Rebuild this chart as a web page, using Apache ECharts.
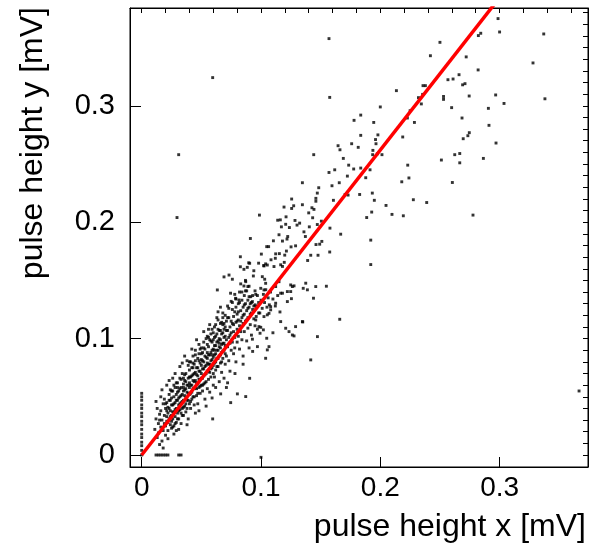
<!DOCTYPE html>
<html>
<head>
<meta charset="utf-8">
<script src="https://cdn.jsdelivr.net/npm/echarts@6/dist/echarts.min.js"></script>
<style>
  html, body { margin: 0; padding: 0; background: #fff; }
  #chart { width: 592px; height: 553px; }
</style>
</head>
<body>
<div id="chart"></div>
<script>
// axis ranges and ticks (mV)
const xRange = [-0.0098, 0.3741]
const yRange = [-0.0103, 0.3840]
const xMajorTicks = [0, 0.1, 0.2, 0.3]
const yMajorTicks = [0, 0.1, 0.2, 0.3]
const xMinorTicks = [0, 0.02, 0.04, 0.06, 0.08, 0.1, 0.12, 0.14, 0.16, 0.18, 0.2, 0.22, 0.24, 0.26, 0.28, 0.3, 0.32, 0.34, 0.36]
const yMinorTicks = [0, 0.01, 0.02, 0.03, 0.04, 0.05, 0.06, 0.07, 0.08, 0.09, 0.1, 0.11, 0.12, 0.13, 0.14, 0.15, 0.16, 0.17, 0.18, 0.19, 0.2, 0.21, 0.22, 0.23, 0.24, 0.25, 0.26, 0.27, 0.28, 0.29, 0.3, 0.31, 0.32, 0.33, 0.34, 0.35, 0.36, 0.37, 0.38]

// events with x = 0 (y channel only)
const zeroXEvents = [[0,0],[0,0.004],[0,0.008],[0,0.011],[0,0.015],[0,0.018],[0,0.022],[0,0.026],[0,0.029],[0,0.033],[0,0.036],[0,0.040],[0,0.043],[0,0.047],[0,0.050],[0,0.053]]
// events with y = 0 (x channel only)
const zeroYEvents = [[0.012,0],[0.014,0],[0.016,0],[0.018,0],[0.020,0],[0.022,0],[0.031,0],[0.033,0],[0.100,-0.002]]

// dense core of the correlation
const coreEvents = [
  [0.011,0.022],[0.012,0.031],[0.013,0.015],[0.013,0.040],[0.014,0.027],[0.015,0.009],[0.015,0.035],[0.012,0.046],[0.014,0.019],
  [0.016,0.024],[0.016,0.038],[0.017,0.030],[0.017,0.012],[0.018,0.044],[0.018,0.021],[0.019,0.034],[0.019,0.027],[0.016,0.050],[0.020,0.017],[0.018,0.006],[0.020,0.040],[0.017,0.056],
  [0.021,0.029],[0.021,0.045],[0.022,0.036],[0.022,0.021],[0.023,0.052],[0.023,0.031],[0.023,0.040],[0.024,0.026],[0.024,0.047],[0.025,0.034],[0.021,0.060],[0.022,0.014],[0.025,0.055],[0.024,0.038],[0.025,0.023],[0.023,0.064],[0.021,0.038],
  [0.026,0.043],[0.026,0.031],[0.027,0.050],[0.027,0.037],[0.027,0.025],[0.028,0.058],[0.028,0.045],[0.028,0.033],[0.029,0.040],[0.029,0.052],[0.029,0.028],[0.030,0.047],[0.026,0.066],[0.030,0.036],[0.027,0.018],[0.030,0.062],[0.028,0.070],[0.026,0.055],[0.029,0.021],
  [0.031,0.043],[0.031,0.055],[0.031,0.031],[0.032,0.050],[0.032,0.039],[0.032,0.066],[0.033,0.045],[0.033,0.058],[0.033,0.027],[0.034,0.052],[0.034,0.040],[0.034,0.070],[0.035,0.047],[0.035,0.061],[0.035,0.034],[0.032,0.076],[0.031,0.022],[0.034,0.079],[0.033,0.036],[0.035,0.055],
  [0.036,0.051],[0.036,0.064],[0.036,0.042],[0.037,0.057],[0.037,0.070],[0.037,0.037],[0.038,0.047],[0.038,0.060],[0.038,0.081],[0.039,0.053],[0.039,0.066],[0.039,0.031],[0.040,0.058],[0.040,0.044],[0.040,0.073],[0.036,0.085],[0.038,0.026],[0.037,0.049],[0.039,0.077],[0.040,0.062],
  [0.041,0.053],[0.041,0.067],[0.041,0.040],[0.042,0.060],[0.042,0.075],[0.042,0.048],[0.043,0.057],[0.043,0.069],[0.043,0.085],[0.044,0.063],[0.044,0.050],[0.044,0.078],[0.045,0.058],[0.045,0.071],[0.045,0.036],[0.042,0.091],[0.044,0.043],[0.041,0.080],[0.043,0.064],[0.045,0.090],
  [0.046,0.062],[0.046,0.075],[0.046,0.051],[0.047,0.068],[0.047,0.083],[0.047,0.044],[0.048,0.058],[0.048,0.072],[0.048,0.095],[0.049,0.065],[0.049,0.079],[0.049,0.053],[0.050,0.070],[0.050,0.087],[0.050,0.060],[0.046,0.099],[0.048,0.038],[0.049,0.091],[0.047,0.061],[0.050,0.077],
  [0.051,0.066],[0.051,0.081],[0.051,0.055],[0.052,0.074],[0.052,0.092],[0.052,0.061],[0.053,0.069],[0.053,0.085],[0.053,0.048],[0.054,0.077],[0.054,0.063],[0.054,0.100],[0.055,0.072],[0.055,0.088],[0.055,0.057],[0.052,0.106],[0.054,0.042],[0.051,0.074],
  [0.056,0.078],[0.056,0.065],[0.056,0.093],[0.057,0.071],[0.057,0.086],[0.057,0.054],[0.058,0.081],[0.058,0.098],[0.058,0.067],[0.059,0.075],[0.059,0.090],[0.059,0.108],[0.060,0.084],[0.060,0.070],[0.060,0.060],[0.057,0.112],[0.059,0.049],[0.056,0.101],
  [0.061,0.079],[0.061,0.094],[0.061,0.067],[0.062,0.087],[0.062,0.102],[0.062,0.073],[0.063,0.083],[0.063,0.097],[0.063,0.118],[0.064,0.090],[0.064,0.076],[0.064,0.108],[0.065,0.085],[0.065,0.100],[0.065,0.063],[0.062,0.058],[0.064,0.123],[0.061,0.110],
  [0.066,0.092],[0.066,0.079],[0.066,0.107],[0.067,0.088],[0.067,0.114],[0.067,0.071],[0.068,0.096],[0.068,0.083],[0.068,0.122],[0.069,0.101],[0.069,0.090],[0.069,0.066],[0.070,0.094],[0.070,0.110],[0.070,0.078],[0.066,0.127],[0.068,0.105],
  [0.071,0.099],[0.071,0.085],[0.071,0.115],[0.072,0.093],[0.072,0.107],[0.072,0.128],[0.073,0.101],[0.073,0.081],[0.073,0.118],[0.074,0.096],[0.074,0.110],[0.074,0.072],[0.075,0.105],[0.075,0.090],[0.075,0.132],[0.072,0.062],
  [0.076,0.113],[0.076,0.097],[0.076,0.125],[0.077,0.106],[0.077,0.087],[0.077,0.119],[0.078,0.101],[0.078,0.138],[0.078,0.092],[0.079,0.114],[0.079,0.127],[0.079,0.080],[0.080,0.108],[0.080,0.121],[0.080,0.097],
  [0.081,0.116],[0.081,0.130],[0.081,0.102],[0.082,0.111],[0.082,0.140],[0.082,0.091],[0.083,0.124],[0.083,0.106],[0.083,0.147],[0.084,0.118],[0.084,0.133],[0.084,0.099],[0.085,0.113],[0.085,0.127],[0.085,0.085],
  [0.086,0.121],[0.086,0.137],[0.086,0.106],[0.087,0.130],[0.087,0.115],[0.087,0.150],[0.088,0.124],[0.088,0.098],[0.088,0.141],[0.089,0.118],[0.089,0.133],[0.089,0.109],[0.090,0.127],[0.090,0.145],[0.090,0.092],
  [0.091,0.121],[0.091,0.112],[0.092,0.131],[0.092,0.103],[0.093,0.125],[0.094,0.117],[0.095,0.129],[0.095,0.111],[0.096,0.119],[0.097,0.128],[0.098,0.122],[0.097,0.108],
  [0.019,0.048],[0.020,0.025],[0.021,0.033],[0.022,0.041],[0.022,0.028],[0.023,0.047],[0.024,0.033],[0.024,0.056],[0.025,0.029],[0.025,0.043],[0.026,0.037],[0.026,0.024],[0.027,0.060],[0.027,0.044],[0.028,0.039],[0.028,0.027],[0.029,0.047],[0.029,0.062],[0.030,0.031],[0.030,0.054],
  [0.031,0.038],[0.031,0.049],[0.032,0.044],[0.032,0.057],[0.033,0.051],[0.033,0.065],[0.034,0.046],[0.034,0.034],[0.035,0.058],[0.035,0.041],[0.036,0.069],[0.036,0.056],[0.037,0.044],[0.037,0.063],[0.038,0.054],[0.038,0.040],[0.039,0.060],[0.039,0.047],[0.040,0.067],[0.040,0.052],
  [0.041,0.060],[0.041,0.046],[0.042,0.068],[0.042,0.054],[0.043,0.075],[0.043,0.050],[0.044,0.070],[0.044,0.057],[0.045,0.064],[0.045,0.081],[0.046,0.057],[0.046,0.069],[0.047,0.075],[0.047,0.053],[0.048,0.065],[0.048,0.081],[0.049,0.059],[0.049,0.072],[0.050,0.066],[0.050,0.082],
  [0.051,0.060],[0.051,0.088],[0.052,0.068],[0.052,0.080],[0.053,0.076],[0.053,0.062],[0.054,0.070],[0.054,0.084],[0.055,0.079],[0.055,0.095],[0.056,0.072],[0.056,0.086],[0.057,0.078],[0.057,0.099],[0.058,0.074],[0.058,0.088],[0.059,0.082],[0.059,0.097],[0.060,0.077],[0.060,0.091],
  [0.061,0.086],[0.061,0.101],[0.062,0.080],[0.062,0.094],[0.063,0.090],[0.063,0.076],[0.064,0.098],[0.064,0.083],[0.065,0.093],[0.065,0.107],[0.066,0.086],[0.066,0.099],[0.067,0.095],[0.067,0.080],[0.068,0.089],[0.068,0.112],[0.069,0.096],[0.069,0.108],[0.070,0.087],[0.070,0.102],
  [0.052,0.097],[0.053,0.091],[0.055,0.083],[0.056,0.108],[0.058,0.104],[0.059,0.086],[0.060,0.099],[0.061,0.090],[0.062,0.112],[0.063,0.104],[0.064,0.116],[0.065,0.096],[0.066,0.113],[0.067,0.104],[0.068,0.118],[0.069,0.113],[0.070,0.120],[0.071,0.107],[0.072,0.118],[0.073,0.126],
  [0.074,0.103],[0.075,0.115],[0.076,0.131],[0.077,0.112],[0.078,0.123],[0.079,0.134],[0.080,0.115],[0.081,0.123],[0.082,0.131],[0.083,0.115],[0.084,0.140],[0.085,0.120],[0.086,0.129],[0.087,0.141],[0.088,0.116],[0.089,0.126],[0.090,0.136],[0.091,0.130],[0.092,0.122],[0.093,0.137],
  [0.094,0.128],[0.095,0.141],[0.096,0.127],[0.097,0.137],[0.098,0.131],[0.099,0.122],[0.100,0.133],[0.101,0.126],[0.102,0.138],[0.103,0.131],[0.104,0.142],[0.105,0.127],[0.106,0.135],[0.107,0.129],[0.108,0.140],[0.110,0.134],[0.112,0.128],[0.114,0.137],
  [0.035,0.066],[0.040,0.080],[0.030,0.058],[0.025,0.049],[0.020,0.044],[0.015,0.030],[0.045,0.086],[0.050,0.092],[0.055,0.102],[0.060,0.105],[0.048,0.087],[0.043,0.079]
]

// sparser events on the rising part of the band
const bandEvents = [
  [0.069,0.153],[0.0732,0.1546],[0.076,0.151],[0.0857,0.1595],[0.0885,0.1612],[0.0905,0.1647],[0.094,0.1583],[0.0936,0.1538],
  [0.1025,0.1624],[0.1053,0.1632],[0.1011,0.1532],[0.1039,0.1475],[0.1031,0.151],[0.112,0.169],[0.1195,0.1655],
  [0.0634,0.1418],[0.0872,0.1489],[0.0857,0.1452],[0.089,0.1447],[0.0745,0.139],[0.0787,0.1346],[0.0815,0.1332],
  [0.0914,0.136],[0.0956,0.138],[0.0928,0.1318],[0.0998,0.1432],[0.1025,0.1418],[0.1123,0.1447],[0.1151,0.1489],
  [0.118,0.139],[0.1221,0.1404],[0.1249,0.1461],[0.1263,0.1447],[0.1067,0.1217],[0.1081,0.1274],[0.1025,0.1189],
  [0.0956,0.116],[0.1159,0.1229],[0.1165,0.1146],[0.1207,0.1089],[0.1235,0.106],[0.1263,0.1031],[0.129,0.1103],
  [0.0998,0.1097],[0.0992,0.1046],[0.1277,0.1023],[0.1473,0.1017],[0.1417,0.0817],[0.1347,0.1146],[0.0905,0.0659],
  [0.0746,0.045],[0.0872,0.0502],[0.0802,0.0525],[0.0662,0.0525],[0.0595,0.031],[0.1039,0.0831],[0.1053,0.0903],
  [0.1067,0.0931],[0.097,0.0931],[0.1048,0.1003],[0.102,0.1075],[0.0983,0.1103],[0.0928,0.0995],[0.1249,0.1404],
  [0.1277,0.1453],[0.1375,0.1476],[0.1389,0.1419],[0.144,0.1347],[0.1459,0.1447],[0.1221,0.1318],[0.1165,0.139],
  [0.1123,0.1304],[0.1081,0.1247],[0.1053,0.1204],[0.1354,0.1432],[0.1548,0.145],[0.1255,0.1343],[0.166,0.1166],
  [0.135,0.1143],[0.0782,0.070],[0.0850,0.078],[0.0930,0.089],[0.0710,0.058],[0.1100,0.105]
]

// outliers and the upper, sparse part of the band
const sparseEvents = [
  [0.2987,0.3749],[0.300,0.3634],[0.337,0.3617],[0.2822,0.3603],[0.2842,0.3623],[0.250,0.3545],[0.242,0.343],[0.272,0.342],
  [0.328,0.3368],[0.282,0.3308],[0.266,0.3267],[0.2567,0.3224],[0.261,0.323],[0.269,0.318],[0.271,0.319],[0.2358,0.3173],
  [0.2378,0.3173],[0.2355,0.3098],[0.232,0.307],[0.2344,0.3016],[0.253,0.308],[0.253,0.3055],[0.2745,0.3084],[0.2967,0.3093],
  [0.338,0.306],[0.3037,0.302],[0.2598,0.2984],[0.2906,0.2978],[0.225,0.2958],[0.2227,0.2895],[0.2286,0.2857],[0.2685,0.2895],
  [0.2911,0.2832],[0.2746,0.2769],[0.2734,0.2743],[0.2695,0.2717],[0.2188,0.2732],[0.297,0.268],[0.2624,0.258],[0.2666,0.259],
  [0.2512,0.2534],[0.2666,0.251],[0.2864,0.2548],[0.223,0.249],[0.224,0.238],[0.218,0.2347],[0.2604,0.2341],[0.2277,0.2193],
  [0.2389,0.2169],[0.2193,0.2055],[0.2777,0.2061],[0.3666,0.055],
  [0.157,0.3577],[0.0595,0.3242],[0.1576,0.3072],[0.031,0.258],[0.0296,0.204],[0.2135,0.313],[0.200,0.299],[0.1836,0.292],
  [0.178,0.2875],[0.1945,0.2857],[0.198,0.275],[0.196,0.271],[0.1964,0.2674],[0.1836,0.2746],[0.176,0.2674],[0.1646,0.2657],
  [0.1662,0.2622],[0.1815,0.2643],[0.1938,0.2617],[0.1936,0.258],[0.1975,0.2588],[0.2014,0.258],[0.1442,0.258],[0.169,0.2548],
  [0.1735,0.249],[0.1777,0.2457],[0.1836,0.2465],[0.1914,0.245],[0.1618,0.245],[0.157,0.2427],[0.1724,0.2396],[0.1878,0.2382],
  [0.1347,0.2339],[0.1656,0.2339],[0.1595,0.2313],[0.1484,0.2296],[0.1472,0.225],[0.1705,0.2238],[0.173,0.2233],[0.1933,0.225],
  [0.1827,0.2238],[0.146,0.2205],[0.146,0.218],[0.1257,0.2199],[0.195,0.2188],[0.1607,0.2188],[0.1274,0.2141],[0.1257,0.2118],
  [0.1347,0.215],[0.1193,0.213],[0.1427,0.2124],[0.1444,0.211],[0.2048,0.2144],[0.2098,0.2067],[0.1928,0.2087],[0.1886,0.204],
  [0.0987,0.2061],[0.121,0.2046],[0.140,0.208],[0.114,0.2017],[0.1162,0.202],[0.1433,0.2038],[0.1506,0.2009],[0.1472,0.198],
  [0.1207,0.1982],[0.1238,0.1954],[0.1285,0.2015],[0.1302,0.1975],[0.1324,0.1992],[0.1171,0.196],[0.1578,0.1949],[0.1405,0.196],
  [0.136,0.1917],[0.1372,0.1877],[0.1668,0.1897],[0.0911,0.186],[0.1151,0.1892],[0.1224,0.1877],[0.1218,0.1855],[0.118,0.1838],
  [0.1104,0.184],[0.1461,0.1808],[0.1492,0.1811],[0.1510,0.1835],[0.192,0.1846],[0.1048,0.179],[0.1064,0.179],[0.1252,0.1788],
  [0.129,0.1797],[0.1213,0.1752],[0.1199,0.1717],[0.1003,0.1726],[0.1123,0.1728],[0.1154,0.173],[0.1576,0.1744],[0.1417,0.1716],
  [0.1478,0.1716],[0.0827,0.1703],[0.1084,0.1677],[0.1391,0.1671],[0.0897,0.1651],[0.098,0.1648],[0.1039,0.1642],[0.1023,0.1628],
  [0.1165,0.1634],[0.1180,0.1620],[0.1109,0.1619],[0.192,0.1636],[0.0827,0.1617]
]

// straight-line fit through the origin
const fitLine = [[0, 0], [0.3, 0.393]]

const chart = echarts.init(document.getElementById('chart'), null, { renderer: 'canvas' })

const font = 'Liberation Sans'
const baseAxis = {
  type: 'value',
  scale: false,
  splitLine: { show: false },
  axisLine: { show: true, onZero: false, lineStyle: { color: '#000', width: 1 } }
}

const allEvents = zeroXEvents.concat(zeroYEvents, coreEvents, bandEvents, sparseEvents)

const option = {
  animation: false,
  backgroundColor: '#fff',
  grid: {
    left: 130, top: 8, width: 458, height: 459,
    show: true, borderColor: '#000', borderWidth: 1,
    outerBoundsMode: 'none'
  },
  xAxis: [
    Object.assign({}, baseAxis, {
      min: xRange[0], max: xRange[1],
      axisTick: { show: true, inside: true, length: 10, customValues: xMajorTicks, lineStyle: { color: '#000' } },
      axisLabel: {
        show: true, customValues: xMajorTicks, margin: 7,
        fontFamily: font, fontSize: 28, color: '#000',
        formatter: (v) => (v === 0 ? '0' : String(v))
      }
    }),
    Object.assign({}, baseAxis, {
      min: xRange[0], max: xRange[1],
      axisTick: { show: true, inside: true, length: 5, customValues: xMinorTicks, lineStyle: { color: '#000' } },
      axisLabel: { show: false }
    })
  ],
  yAxis: [
    Object.assign({}, baseAxis, {
      min: yRange[0], max: yRange[1],
      axisTick: { show: true, inside: true, length: 11, customValues: yMajorTicks, lineStyle: { color: '#000' } },
      axisLabel: {
        show: true, customValues: yMajorTicks, margin: 15,
        fontFamily: font, fontSize: 29, color: '#000',
        formatter: (v) => (v === 0 ? '0' : String(v))
      }
    }),
    Object.assign({}, baseAxis, {
      min: yRange[0], max: yRange[1],
      axisTick: { show: true, inside: true, length: 5, customValues: yMinorTicks, lineStyle: { color: '#000' } },
      axisLabel: { show: false }
    })
  ],
  graphic: [
    {
      type: 'text', x: 586, y: 527,
      style: {
        text: 'pulse height x [mV]', fill: '#000',
        font: '32px "Liberation Sans"',
        align: 'right', verticalAlign: 'middle',
        textAlign: 'right', textVerticalAlign: 'middle'
      }
    },
    {
      type: 'text', x: 33, y: 7, rotation: Math.PI / 2,
      style: {
        text: 'pulse height y [mV]', fill: '#000',
        font: '32px "Liberation Sans"',
        align: 'right', verticalAlign: 'middle',
        textAlign: 'right', textVerticalAlign: 'middle'
      }
    }
  ],
  series: [
    {
      name: 'events',
      type: 'scatter',
      xAxisIndex: 0, yAxisIndex: 0,
      symbol: 'rect',
      symbolSize: 2.9,
      itemStyle: { color: '#000' },
      data: allEvents
    },
    {
      name: 'fit',
      type: 'line',
      xAxisIndex: 0, yAxisIndex: 0,
      showSymbol: false,
      clip: true,
      lineStyle: { color: '#ff0000', width: 3.5 },
      data: fitLine,
      z: 3
    }
  ]
}

chart.setOption(option)
</script>
</body>
</html>
